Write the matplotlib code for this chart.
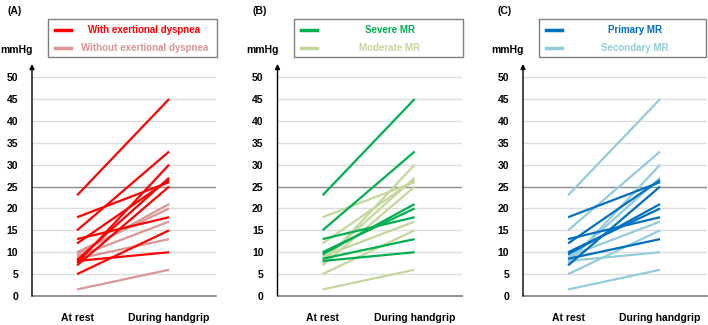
import numpy as np
import matplotlib
matplotlib.use("Agg")
import matplotlib.pyplot as plt
from matplotlib.patches import Rectangle
from matplotlib.lines import Line2D

plt.rcParams["font.family"] = ["Liberation Sans", "DejaVu Sans"]
plt.rcParams["font.weight"] = "bold"

# one row per patient: pressure at rest and during handgrip (mmHg)
CATS = ["At rest", "During handgrip"]
REST = [23, 18, 15, 13, 12, 7, 7.5, 8, 5, 9.5, 10, 9, 8.5, 1.5, 8.2]
GRIP = [45, 26, 33, 18, 26.5, 25, 30, 10, 15, 21, 20, 17, 13, 6, 27]
DYSPNEA = [1, 1, 1, 1, 1, 1, 1, 1, 1, 0, 0, 0, 0, 0, 1]
SEVERE = [1, 0, 1, 1, 0, 0, 0, 1, 0, 1, 1, 0, 1, 0, 0]
PRIMARY = [0, 1, 0, 1, 1, 1, 0, 0, 0, 1, 1, 0, 1, 0, 0]
YTICKS = list(range(0, 55, 5))

PANELS = [
    ("(A)", DYSPNEA, ["With exertional dyspnea", "Without exertional dyspnea"],
     ["#FF0000", "#DA9694"]),
    ("(B)", SEVERE, ["Severe MR", "Moderate MR"], ["#00B050", "#C4D79B"]),
    ("(C)", PRIMARY, ["Primary MR", "Secondary MR"], ["#0070C0", "#92CDDC"]),
]

W, H = 708, 325
fig = plt.figure(figsize=(W / 100, H / 100), dpi=100)

for k, (tag, flag, labels, colors) in enumerate(PANELS):
    x0 = 32 + 245.5 * k  # left spine, pixels
    ax = fig.add_axes([x0 / W, 29 / H, 184 / W, 232 / H])
    ax.set_xlim(-0.49, 1.51)
    ax.set_ylim(0, 53)
    for yv in YTICKS[1:]:
        ax.axhline(yv, color="#8C8C8C" if yv == 25 else "#DCDCDC", lw=1.0, zorder=0)
    # lighter group underneath, highlighted group on top
    for want in (0, 1):
        for r, g, f in zip(REST, GRIP, flag):
            if f == want:
                ax.plot([0, 1], [r, g], color=colors[1 - f], lw=1.6,
                        solid_capstyle="butt", zorder=2 + f)
    for s in ("top", "right", "left"):
        ax.spines[s].set_visible(False)
    ax.spines["bottom"].set_color("#7F7F7F")
    ax.spines["bottom"].set_linewidth(1.2)
    ax.annotate("", xy=(0, 1), xycoords="axes fraction", xytext=(0, 0),
                arrowprops=dict(arrowstyle="-|>", color="black", lw=1.0,
                                mutation_scale=7, shrinkA=0, shrinkB=0))
    ax.set_xticks([0, 1], CATS)
    ax.set_yticks(YTICKS)
    ax.tick_params(axis="x", length=0, pad=12, labelsize=7.5)
    ax.tick_params(axis="y", length=0, pad=10, labelsize=7.5)

    fig.text((x0 + 1) / W, 1 - 50 / H, "mmHg", ha="right", va="center", fontsize=7.5)
    fig.text((x0 - 25) / W, 1 - 11 / H, tag, ha="left", va="center", fontsize=7.5)

    # legend box
    bl, br = x0 + 16, min(x0 + 185, W - 2)
    fig.add_artist(Rectangle((bl / W, 1 - 57 / H), (br - bl) / W, 38 / H,
                             transform=fig.transFigure, facecolor="white",
                             edgecolor="#7F7F7F", lw=1.0, zorder=5))
    for j, (lab, col) in enumerate(zip(labels, colors)):
        yy = 1 - (30 + 18 * j) / H
        fig.add_artist(Line2D([(x0 + 23) / W, (x0 + 39) / W], [yy, yy],
                              transform=fig.transFigure, color=col, lw=2.5, zorder=6))
        fig.text((x0 + 40 + br) / 2 / W, yy, lab, ha="center", va="center",
                 color=col, fontsize=7, zorder=7)

fig.savefig("out.png", dpi=100)
